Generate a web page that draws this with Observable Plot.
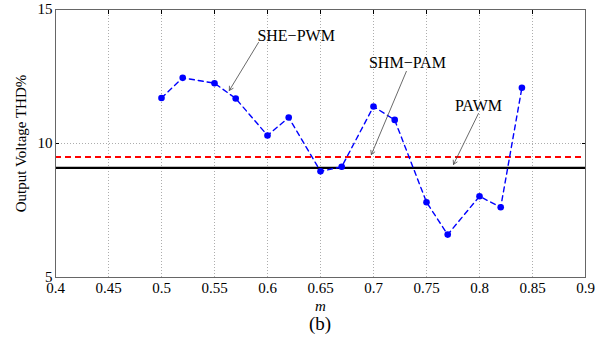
<!DOCTYPE html>
<html>
<head>
<meta charset="utf-8">
<script src="https://cdn.jsdelivr.net/npm/d3@7"></script>
<script src="https://cdn.jsdelivr.net/npm/@observablehq/plot@0.6"></script>
<style>
  body { margin: 0; background: #fff; }
  #wrap { position: relative; width: 603px; height: 337px; font-family: "Liberation Serif", "Times New Roman", serif; }
  #wrap svg, #wrap svg text { font-family: "Liberation Serif", "Times New Roman", serif !important; }
  #cap { position: absolute; left: 55px; width: 530px; top: 314px; line-height: 20px; text-align: center; font-size: 19px; color: #000; }
</style>
</head>
<body>
<div id="wrap"><div id="chart"></div><div id="cap">(b)</div></div>
<script>
const m = [0.50, 0.52, 0.55, 0.57, 0.60, 0.62, 0.65, 0.67, 0.70, 0.72, 0.75, 0.77, 0.80, 0.82, 0.84];
const sheTHD = [11.7, 12.45, 12.25, 11.68, 10.3, 10.97, 8.96, 9.13, 11.38, 10.88, 7.81, 6.6, 8.03, 7.62, 12.08];
const shmPamTHD = 9.5;
const pawmTHD = 9.09;
const xTicks = [0.4, 0.45, 0.5, 0.55, 0.6, 0.65, 0.7, 0.75, 0.8, 0.85, 0.9];
const yTicks = [5, 10, 15];
const labelText = ["SHE\u2212PWM", "SHM\u2212PAM", "PAWM"];
const labelX = [0.627, 0.732, 0.799];
const labelY = [14.03, 13.02, 11.42];
const arrowX1 = [0.5915, 0.731, 0.799];
const arrowY1 = [13.77, 12.69, 11.12];
const arrowX2 = [0.564, 0.698, 0.7755];
const arrowY2 = [11.98, 9.59, 9.22];

const series = m.map((v, i) => ({m: v, thd: sheTHD[i]}));
const labels = labelText.map((t, i) => ({t, x: labelX[i], y: labelY[i]}));
const arrows = arrowX1.map((v, i) => ({x1: v, y1: arrowY1[i], x2: arrowX2[i], y2: arrowY2[i]}));

const chart = Plot.plot({
  width: 603,
  height: 312,
  marginLeft: 55,
  marginRight: 18,
  marginTop: 9,
  marginBottom: 35,
  style: {fontFamily: "'Liberation Serif', serif", fontSize: "15px", color: "#000", background: "#fff"},
  x: {domain: [0.4, 0.9]},
  y: {domain: [5, 15]},
  marks: [
    Plot.gridX(xTicks, {stroke: "#999", strokeOpacity: 0.8, strokeDasharray: "1,2"}),
    Plot.gridY([10], {stroke: "#999", strokeOpacity: 0.8, strokeDasharray: "1,2"}),
    Plot.axisX(xTicks, {tickSize: -4, tickPadding: 9, tickFormat: d => String(d), label: "m", labelAnchor: "center", labelArrow: "none", labelOffset: 33, stroke: null}),
    Plot.axisX(xTicks, {anchor: "top", tickSize: -4, tickFormat: () => "", label: null}),
    Plot.axisY(yTicks, {tickSize: -4, tickPadding: 7, tickFormat: d => String(d), label: "Output Voltage THD%", labelAnchor: "center", labelArrow: "none", labelOffset: 40}),
    Plot.axisY(yTicks, {anchor: "right", tickSize: -4, tickFormat: () => "", label: null}),
    Plot.ruleY([pawmTHD], {stroke: "#000", strokeWidth: 2.2}),
    Plot.ruleY([shmPamTHD], {stroke: "#ff0000", strokeWidth: 2, strokeDasharray: "6,4"}),
    Plot.line(series, {x: "m", y: "thd", stroke: "#0000ff", strokeWidth: 1.4, strokeDasharray: "5,4"}),
    Plot.dot(series, {x: "m", y: "thd", r: 3.3, fill: "#0000ff"}),
    Plot.arrow(arrows, {x1: "x1", y1: "y1", x2: "x2", y2: "y2", stroke: "#444", strokeWidth: 0.8, headLength: 8, insetStart: 0, insetEnd: 0}),
    Plot.text(labels, {x: "x", y: "y", text: "t", fontSize: 16, fill: "#000"}),
    Plot.frame({stroke: "#666"})
  ]
});
document.getElementById("chart").appendChild(chart);
chart.querySelectorAll("text").forEach(t => { if (t.textContent === "m") t.setAttribute("font-style", "italic"); });
</script>
</body>
</html>
